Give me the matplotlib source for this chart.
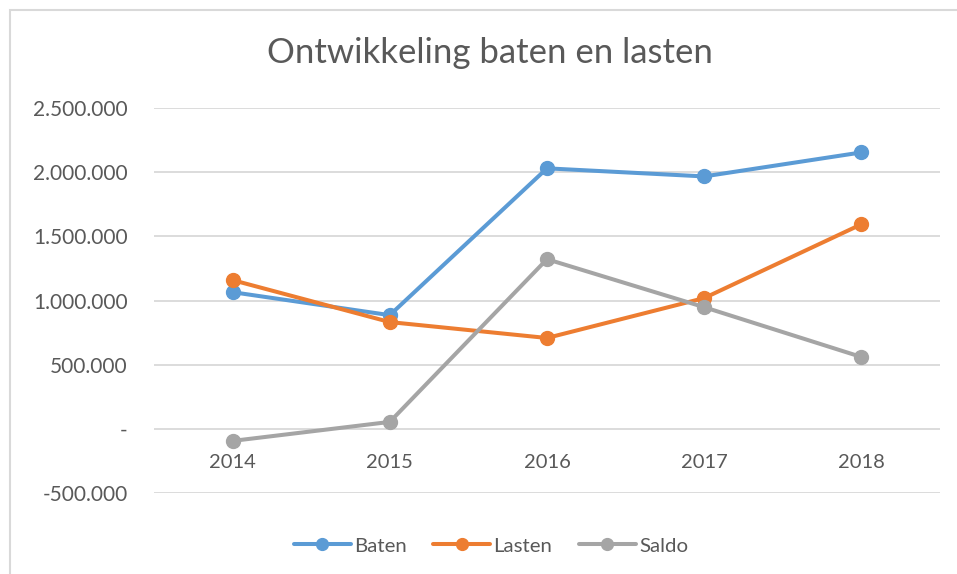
import matplotlib.pyplot as plt
from matplotlib.patches import Rectangle
from matplotlib.ticker import FuncFormatter

years = ["2014", "2015", "2016", "2017", "2018"]
baten = [1065000, 886000, 2030000, 1967000, 2154000]
lasten = [1159000, 832000, 708000, 1019000, 1594000]
saldo = [-94000, 54000, 1322000, 948000, 560000]
yticks = [-500000, 0, 500000, 1000000, 1500000, 2000000, 2500000]

TXT = "#595959"
GRID = "#D9D9D9"


def fmt(v, pos):
    if v == 0:
        return "-"
    return f"{v:,.0f}".replace(",", ".")


def main():
    plt.rcParams.update({"font.family": ["Lato", "DejaVu Sans"], "font.size": 14})
    fig = plt.figure(figsize=(9.57, 5.74), dpi=100)
    ax = fig.add_axes([0.1609, 0.1411, 0.8213, 0.6707])

    # chart area border (top and left visible)
    fig.patches.append(Rectangle((10 / 957, -0.05), 1.0, 1 - 10 / 574 + 0.05,
                                 transform=fig.transFigure, fill=False,
                                 edgecolor=GRID, linewidth=1.5))

    x = list(range(len(years)))
    series = [("Baten", baten, "#5B9BD5"), ("Lasten", lasten, "#ED7D31"), ("Saldo", saldo, "#A5A5A5")]
    for name, vals, col in series:
        ax.plot(x, vals, color=col, linewidth=2.9, marker="o", markersize=10,
                label=name, solid_capstyle="round", zorder=3)

    ax.set_xlim(-0.5, len(years) - 0.5)
    ax.set_ylim(-500000, 2500000)
    ax.set_yticks(yticks)
    ax.yaxis.set_major_formatter(FuncFormatter(fmt))
    ax.tick_params(axis="y", length=0, pad=19, colors=TXT, labelsize=15)
    ax.set_xticks([])
    ax.grid(axis="y", color=GRID, linewidth=1.3)
    ax.set_axisbelow(True)
    for s in ax.spines.values():
        s.set_visible(False)

    for i, yr in enumerate(years):
        ax.annotate(yr, (i, 0), xytext=(0, -24), textcoords="offset points",
                    ha="center", va="center", color=TXT, fontsize=14.5)

    fig.text(0.512, 0.908, "Ontwikkeling baten en lasten", ha="center", va="center",
             fontsize=25, color=TXT)

    fig.legend(loc="center", bbox_to_anchor=(0.513, 0.049), ncol=3, frameon=False,
               handlelength=2.8, handletextpad=0.15, columnspacing=1.3,
               labelcolor=TXT, fontsize=14.7, markerscale=0.85)

    fig.savefig("out.png", dpi=100)
    plt.close(fig)


if __name__ == "__main__":
    main()
